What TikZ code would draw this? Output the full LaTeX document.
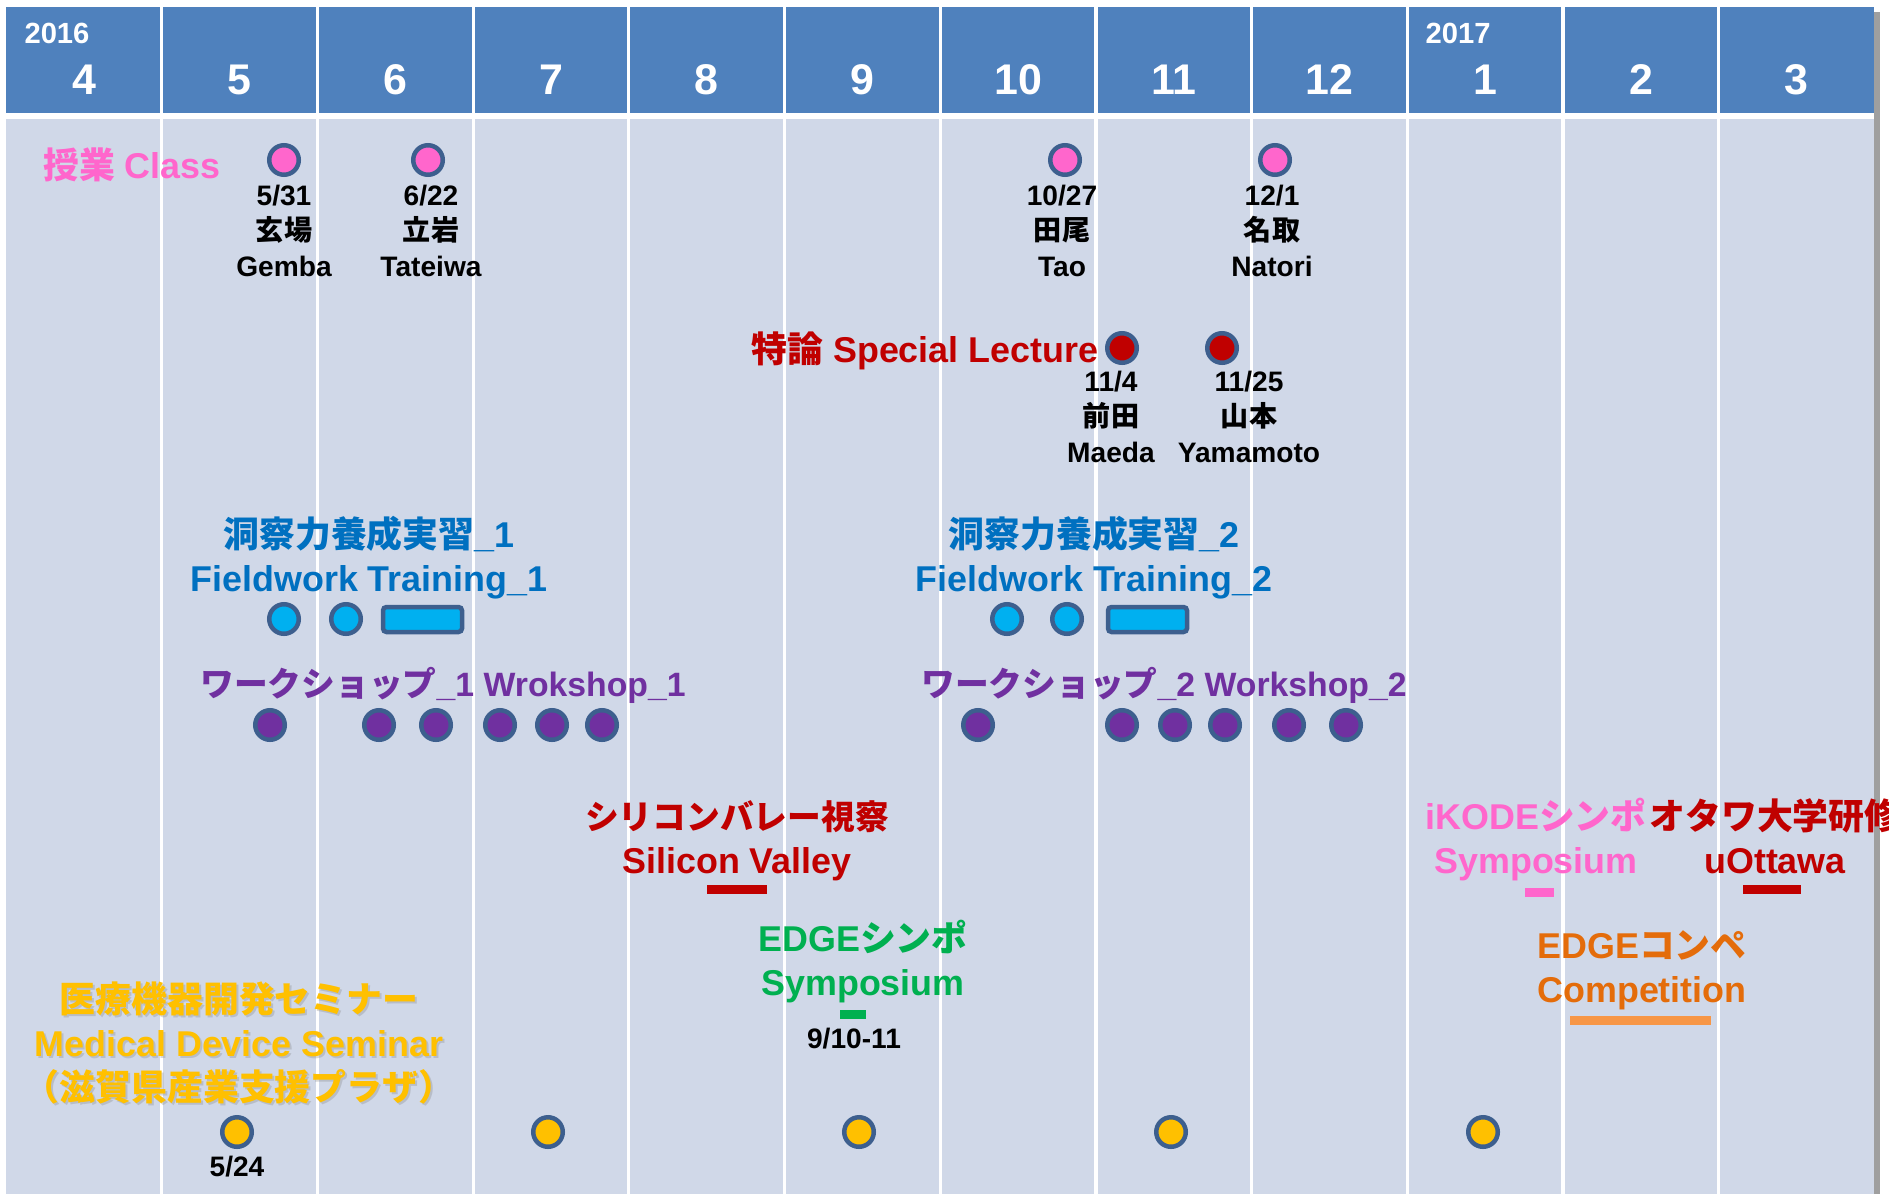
\documentclass[tikz,border=0pt]{standalone}
\usepackage{fontspec}
\setmainfont{Liberation Sans}
\newfontfamily\ja{Noto Sans CJK JP}
\definecolor{headblue}{HTML}{4F81BD}
\definecolor{bodyblue}{HTML}{D0D8E8}
\definecolor{rim}{HTML}{3D5F8E}
\definecolor{classpink}{HTML}{FF66CC}
\definecolor{lecred}{HTML}{C00000}
\definecolor{fieldblue}{HTML}{0070C0}
\definecolor{fieldcyan}{HTML}{00B0F0}
\definecolor{shoppurple}{HTML}{7030A0}
\definecolor{edgegreen}{HTML}{00B050}
\definecolor{comporange}{HTML}{E46C0A}
\definecolor{barorange}{HTML}{F79646}
\definecolor{semgold}{HTML}{FFC000}

\begin{document}
\begin{tikzpicture}[x=0.01cm, y=-0.01cm,
    event/.style={circle, draw=rim, line width=0.045cm, minimum size=0.295cm, inner sep=0pt},
    heading/.style={anchor=base, align=center, inner sep=0pt, font=\fontsize{10.2pt}{12.5pt}\selectfont\bfseries},
    who/.style={anchor=base, align=center, inner sep=0pt, font=\fontsize{8pt}{10pt}\selectfont\bfseries},
    month/.style={anchor=base, inner sep=0pt, text=white, font=\fontsize{12.2pt}{14pt}\selectfont\bfseries},
    year/.style={anchor=base, inner sep=0pt, text=white, font=\fontsize{8.3pt}{10pt}\selectfont\bfseries}]
\clip (0,0) rectangle (1889,1194);
\fill[white] (0,0) rectangle (1889,1194);
% month grid
\fill[gray!75] (1874,12) rectangle (1880,1194);
\fill[headblue] (6,7) rectangle (1874,113);
\fill[bodyblue] (6,119) rectangle (1874,1194);
\foreach \i in {1,...,11}
    \draw[white, line width=0.9pt] (6+155.7*\i,7) -- (6+155.7*\i,1194);
\foreach \m [count=\i from 0] in {4,5,6,7,8,9,10,11,12,1,2,3}
    \node[month] (m\i) at (84+155.7*\i,95) {\m};
\node[year] (y2016) at (57,44) {2016};
\node[year] (y2017) at (1458,44) {2017};

% class (multi-line nodes sit on their last baseline)
\node[heading, text=classpink] (class) at (132,179) {{\ja 授業} Class};
\foreach \x [count=\n] in {284,428,1065,1275}
    \node[event, fill=classpink] (cd\n) at (\x,160) {};
\node[who] (cw1) at (284,276) {5/31\\{\ja 玄場}\\Gemba};
\node[who] (cw2) at (431,276) {6/22\\{\ja 立岩}\\Tateiwa};
\node[who] (cw3) at (1062,276) {10/27\\{\ja 田尾}\\Tao};
\node[who] (cw4) at (1272,276) {12/1\\{\ja 名取}\\Natori};

% special lecture
\node[heading, anchor=base east, text=lecred] (lecture) at (1099,362) {{\ja 特論} Special Lecture};
\node[event, fill=lecred] (ld1) at (1122,348) {};
\node[event, fill=lecred] (ld2) at (1222,348) {};
\node[who] (lw1) at (1111,462) {11/4\\{\ja 前田}\\Maeda};
\node[who] (lw2) at (1249,462) {11/25\\{\ja 山本}\\Yamamoto};

% fieldwork
\node[heading, text=fieldblue] (field1) at (369,591) {{\ja 洞察力養成実習}\_1\\Fieldwork Training\_1};
\node[heading, text=fieldblue] (field2) at (1094,591) {{\ja 洞察力養成実習}\_2\\Fieldwork Training\_2};
\foreach \x [count=\n] in {284,346,1007,1067}
    \node[event, fill=fieldcyan] (fd\n) at (\x,619) {};
\draw[fill=fieldcyan, draw=rim, line width=0.045cm, rounded corners=1pt] (383,607) rectangle (462,632);
\draw[fill=fieldcyan, draw=rim, line width=0.045cm, rounded corners=1pt] (1108,607) rectangle (1187,632);

% workshop
\node[heading, font=\fontsize{9.6pt}{12pt}\selectfont\bfseries, text=shoppurple] (shop1) at (443,696) {{\ja ワークショップ}\_1 Wrokshop\_1};
\node[heading, font=\fontsize{9.6pt}{12pt}\selectfont\bfseries, text=shoppurple] (shop2) at (1164,696) {{\ja ワークショップ}\_2 Workshop\_2};
\foreach \x [count=\n] in {270,379,436,500,552,602,978,1122,1175,1225,1289,1346}
    \node[event, fill=shoppurple] (wd\n) at (\x,725) {};

% trips
\node[heading, text=lecred] (valley) at (737,873) {{\ja\fontsize{9.6pt}{12.5pt}\selectfont シリコンバレー視察}\\Silicon Valley};
\fill[lecred] (707,885) rectangle (767,894);
\node[heading, text=classpink] (ikode) at (1536,873) {iKODE{\ja シンポ}\\Symposium};
\fill[classpink] (1525,888) rectangle (1554,897);
\node[heading, text=lecred] (ottawa) at (1775,873) {{\ja オタワ大学研修}\\uOttawa};
\fill[lecred] (1743,885) rectangle (1801,894);

% edge
\node[heading, text=edgegreen] (edgesym) at (863,995) {EDGE{\ja シンポ}\\Symposium};
\fill[edgegreen] (840,1010) rectangle (866,1019);
\node[who] (edgedate) at (854,1048) {9/10-11};
\node[heading, text=comporange] (edgecomp) at (1642,1002) {EDGE{\ja コンペ}\\Competition};
\fill[barorange] (1570,1016) rectangle (1711,1025);

% seminar
\node[heading, text=black!50, opacity=0.3] (semshadow) at (241,1102)
    {{\ja 医療機器開発セミナー}\\Medical Device Seminar\\{\ja （滋賀県産業支援プラザ）}};
\node[heading, text=semgold] (seminar) at (239,1100)
    {{\ja 医療機器開発セミナー}\\Medical Device Seminar\\{\ja （滋賀県産業支援プラザ）}};
\foreach \x [count=\n] in {237,548,859,1171,1483}
    \node[event, fill=semgold] (sd\n) at (\x,1132) {};
\node[who] (semdate) at (237,1176) {5/24};
\end{tikzpicture}
\end{document}
